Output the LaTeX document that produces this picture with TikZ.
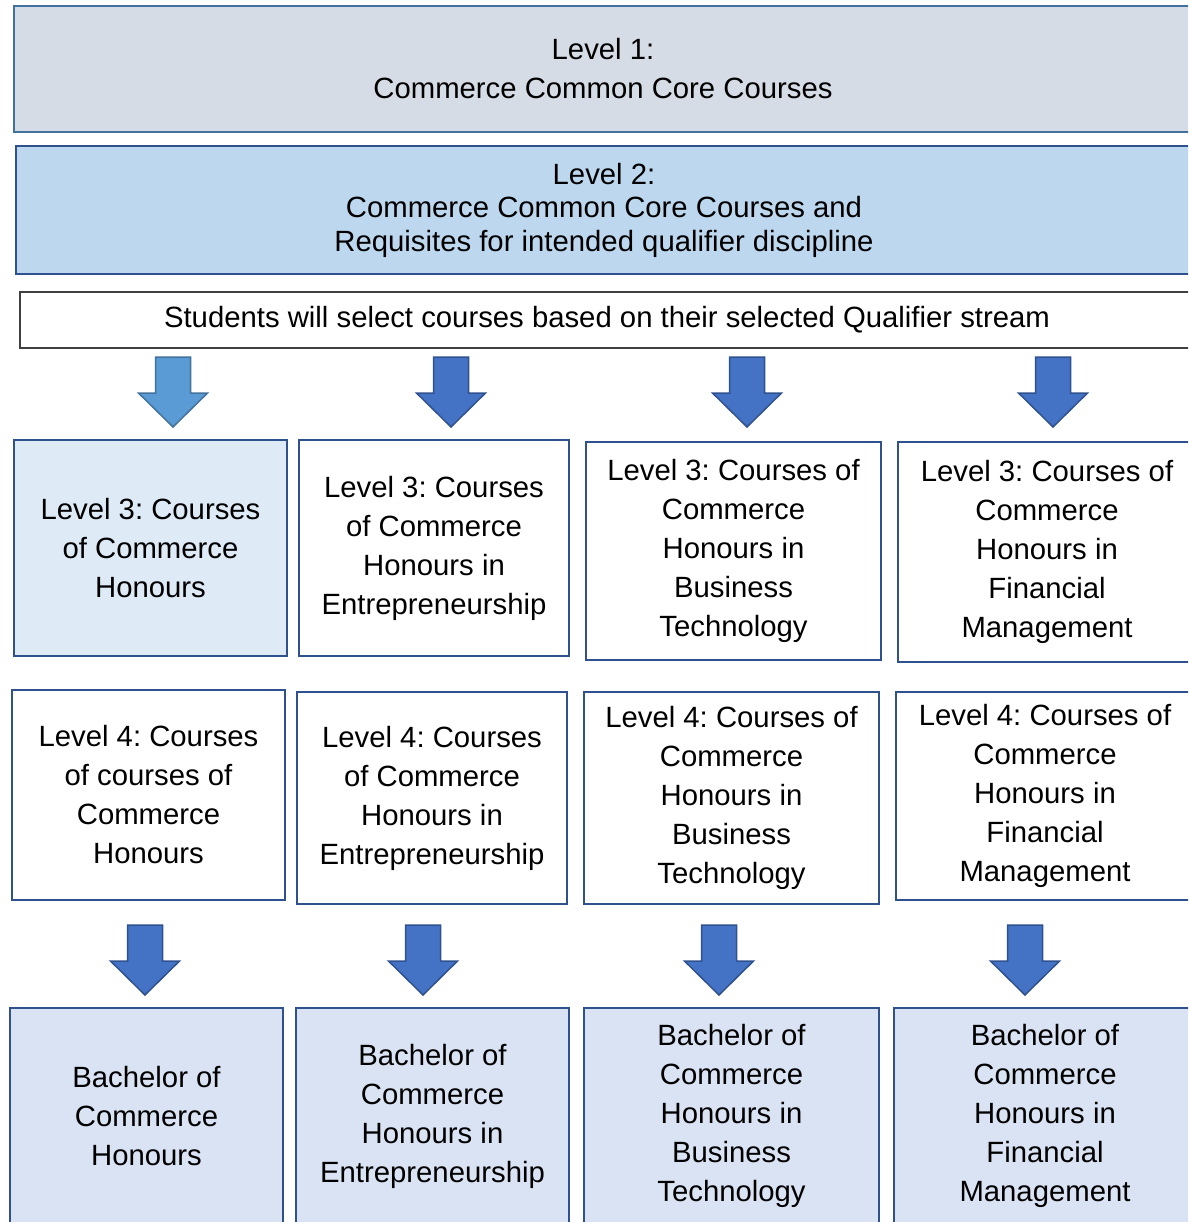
\documentclass[tikz,border=0pt]{standalone}
\usepackage{fontspec}
\setmainfont{Liberation Sans}
\frenchspacing
\definecolor{lvlonefill}{HTML}{D6DCE5}
\definecolor{lvltwofill}{HTML}{BDD7EE}
\definecolor{lightfill}{HTML}{DEEBF7}
\definecolor{degreefill}{HTML}{DAE3F3}
\definecolor{midline}{HTML}{41719C}
\definecolor{darkline}{HTML}{2F528F}
\definecolor{arrowlight}{HTML}{5B9BD5}
\definecolor{arrowdark}{HTML}{4472C4}
\tikzset{
  pics/blockarrow/.style={code={
    \draw[#1] (-17.5,0) -- (17.5,0) -- (17.5,36) -- (34.5,36) -- (0,70)
      -- (-34.5,36) -- (-17.5,36) -- cycle;
  }}
}
\begin{document}
\begin{tikzpicture}[x=1pt,y=-1pt,
    font=\fontsize{29.3}{39}\selectfont,
    box/.style={draw=darkline,line width=2.5pt,rectangle,inner sep=0pt,align=center},
    levelbox/.style={box,fill=lvlonefill,draw=midline},
    coursebox/.style={box,fill=white},
    degreebox/.style={box,fill=degreefill},
    lightarrow/.style={fill=arrowlight,draw=midline,line width=1.5pt},
    darkarrow/.style={fill=arrowdark,draw=darkline,line width=1.5pt}]

  \useasboundingbox (0,0) rectangle (1188,1222);
  \clip (0,0) rectangle (1188,1222);

  % top levels
  \node[levelbox,minimum width=1178pt,minimum height=126pt] (lvlone) at (603,69)
    {Level 1:\\Commerce Common Core Courses};
  \node[box,fill=lvltwofill,minimum width=1176pt,minimum height=128pt,
        font=\fontsize{29.3}{33.5}\selectfont] (lvltwo) at (604,210)
    {Level 2:\\Commerce Common Core Courses and\\Requisites for intended qualifier discipline};
  \node[draw=black!75,line width=1.5pt,fill=white,minimum width=1174pt,minimum height=56pt,inner sep=0pt] (select) at (607,320)
    {Students will select courses based on their selected Qualifier stream};

  % first arrows
  \pic at (173,357) {blockarrow=lightarrow};
  \pic at (451,357) {blockarrow=darkarrow};
  \pic at (747,357) {blockarrow=darkarrow};
  \pic at (1053,357) {blockarrow=darkarrow};

  % level 3
  \node[box,fill=lightfill,minimum width=273pt,minimum height=216pt] (lthreea) at (150.5,548)
    {Level 3: Courses\\of Commerce\\Honours};
  \node[coursebox,minimum width=270pt,minimum height=216pt] (lthreeb) at (434,548)
    {Level 3: Courses\\of Commerce\\Honours in\\Entrepreneurship};
  \node[coursebox,minimum width=295pt,minimum height=218pt] (lthreec) at (733.5,551)
    {Level 3: Courses of\\Commerce\\Honours in\\Business\\Technology};
  \node[coursebox,minimum width=298pt,minimum height=220pt] (lthreed) at (1047,552)
    {Level 3: Courses of\\Commerce\\Honours in\\Financial\\Management};

  % level 4
  \node[coursebox,minimum width=273pt,minimum height=210pt] (lfoura) at (148.5,795)
    {Level 4: Courses\\of courses of\\Commerce\\Honours};
  \node[coursebox,minimum width=270pt,minimum height=212pt] (lfourb) at (432,798)
    {Level 4: Courses\\of Commerce\\Honours in\\Entrepreneurship};
  \node[coursebox,minimum width=295pt,minimum height=212pt] (lfourc) at (731.5,798)
    {Level 4: Courses of\\Commerce\\Honours in\\Business\\Technology};
  \node[coursebox,minimum width=298pt,minimum height=208pt] (lfourd) at (1045,796)
    {Level 4: Courses of\\Commerce\\Honours in\\Financial\\Management};

  % second arrows
  \pic at (145,925) {blockarrow=darkarrow};
  \pic at (423,925) {blockarrow=darkarrow};
  \pic at (719,925) {blockarrow=darkarrow};
  \pic at (1025,925) {blockarrow=darkarrow};

  % degrees
  \node[degreebox,minimum width=273pt,minimum height=216pt] (dega) at (146.5,1116)
    {Bachelor of\\Commerce\\Honours};
  \node[degreebox,minimum width=273pt,minimum height=216pt] (degb) at (432.5,1116)
    {Bachelor of\\Commerce\\Honours in\\Entrepreneurship};
  \node[degreebox,minimum width=295pt,minimum height=216pt] (degc) at (731.5,1116)
    {Bachelor of\\Commerce\\Honours in\\Business\\Technology};
  \node[degreebox,minimum width=302pt,minimum height=216pt] (degd) at (1045,1116)
    {Bachelor of\\Commerce\\Honours in\\Financial\\Management};

\end{tikzpicture}
\end{document}
